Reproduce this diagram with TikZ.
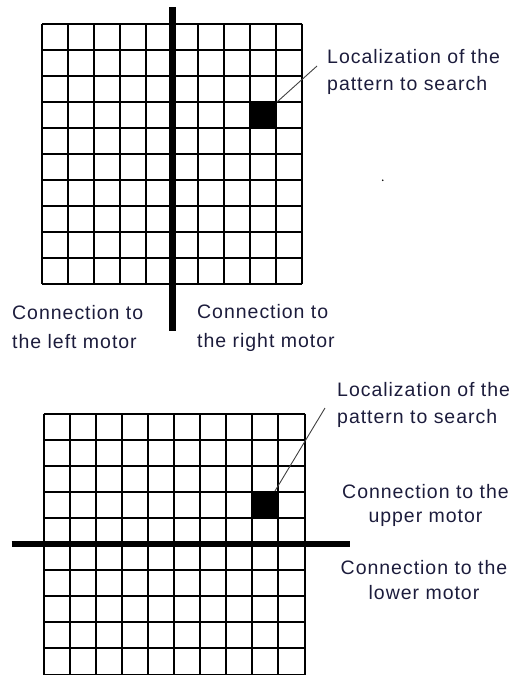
\documentclass[tikz,border=0pt]{standalone}
\usepackage{fontspec}
\setmainfont{Liberation Sans}[LetterSpace=5]
\definecolor{txt}{RGB}{28,28,60}
\begin{document}
\begin{tikzpicture}[x=1pt,y=-1pt,
  gridline/.style={line width=2pt,black},
  motorline/.style={line width=6.5pt,black},
  leader/.style={line width=0.9pt,black!75},
  lbl/.style={inner sep=0pt,text=txt,font=\fontsize{19.5}{27}\selectfont}]
\useasboundingbox (0,0) rectangle (519,675);
% ---------- top grid ----------
\fill (250,101.5) rectangle (276,127.5);
\foreach \i in {0,...,10}{
  \draw[gridline] (42+26*\i,23.5) -- (42+26*\i,283.5);
  \draw[gridline] (42,23.5+26*\i) -- (302,23.5+26*\i);
}
\coordinate (topcell) at (277,102);
\coordinate (vtop) at (172.3,7);
\coordinate (vbot) at (172.3,331);
\draw[motorline] (vtop) -- (vbot);
\node[lbl,anchor=west,align=left] (loc1) at (327,71.5) {Localization of the\\pattern to search};
\draw[leader] (topcell) -- (317,66);
\node[lbl,anchor=west,align=left,font=\fontsize{19.5}{29}\selectfont] (left) at (12,327.5) {Connection to\\the left motor};
\node[lbl,anchor=west,align=left,font=\fontsize{19.5}{29}\selectfont] (right) at (197,327.5) {Connection to\\the right motor};
\fill (382.7,180.3) circle (0.9);
% ---------- bottom grid ----------
\fill (252.3,491.8) rectangle (278.4,518);
\foreach \i in {0,...,10}{
  \draw[gridline] (43.5+26.1*\i,413.5) -- (43.5+26.1*\i,674.5);
  \draw[gridline] (43.5,413.5+26.1*\i) -- (304.5,413.5+26.1*\i);
}
\coordinate (botcell) at (275,491);
\coordinate (hleft) at (11.5,544);
\coordinate (hright) at (350,544);
\draw[motorline] (hleft) -- (hright);
\node[lbl,anchor=west,align=left] (loc2) at (337,404.5) {Localization of the\\pattern to search};
\draw[leader] (botcell) -- (325,408);
\node[lbl,align=center,font=\fontsize{19.5}{24}\selectfont] (upper) at (425.5,505) {Connection to the\\upper motor};
\node[lbl,align=center,font=\fontsize{19.5}{25}\selectfont] (lower) at (424,580.5) {Connection to the\\lower motor};
\end{tikzpicture}
\end{document}
